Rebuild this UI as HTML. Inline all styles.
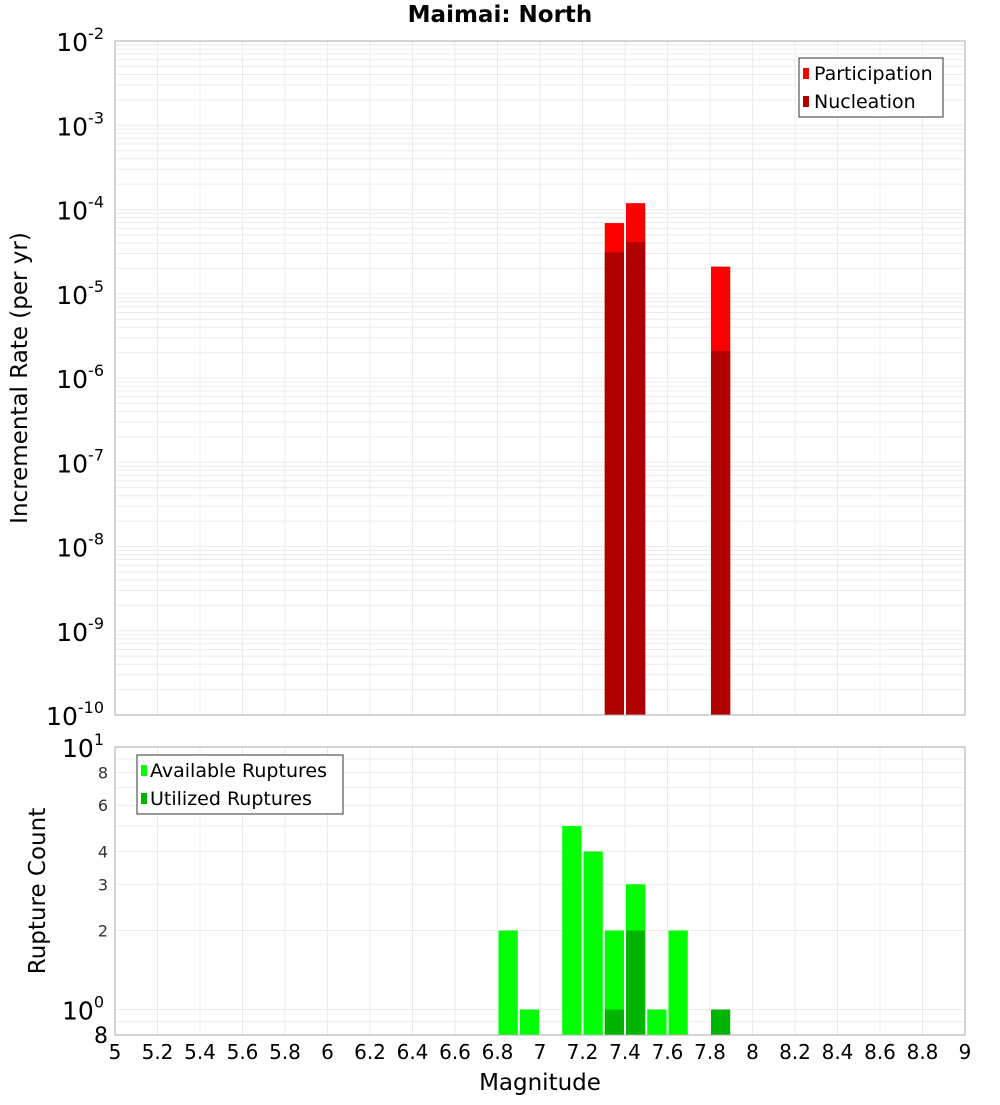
<!DOCTYPE html>
<html><head><meta charset="utf-8"><style>
body{margin:0;background:#fff;font-family:"Liberation Sans","DejaVu Sans",sans-serif}
svg text{font-family:"DejaVu Sans","Liberation Sans",sans-serif}
</style></head><body>
<svg id="c" width="1000" height="1100" xmlns="http://www.w3.org/2000/svg"></svg>
<script>
const topMags=[7.35,7.45,7.85];
const participation=[6.9e-5,1.19e-4,2.1e-5];
const nucleation=[3.1e-5,4.1e-5,2.1e-6];
const availMags=[6.85,6.95,7.15,7.25,7.35,7.45,7.55,7.65];
const available=[2,1,5,4,2,3,1,2];
const utilMags=[7.35,7.45,7.85];
const utilized=[1,2,1];
const xTicks=[5,5.2,5.4,5.6,5.8,6,6.2,6.4,6.6,6.8,7,7.2,7.4,7.6,7.8,8,8.2,8.4,8.6,8.8,9];
const topDecades=[-10,-9,-8,-7,-6,-5,-4,-3,-2];
const botTicks=[2,3,4,6,8];

const svg=document.getElementById('c');const NS='http://www.w3.org/2000/svg';
function el(t,a,p){const e=document.createElementNS(NS,t);for(const k in a)e.setAttribute(k,a[k]);(p||svg).appendChild(e);return e;}
const L=115,R=965,T1=41,B1=715,T2=747,B2=1035;
const X=m=>L+(m-5)/4*(R-L);
const Y1=v=>T1+(-2-Math.log10(v))/8*(B1-T1);
const Y2=v=>B2-(Math.log10(v)-Math.log10(0.8))/(1-Math.log10(0.8))*(B2-T2);
const bw=(X(5.1)-X(5))-2;
const g=el('g',{});
xTicks.forEach(t=>{el('line',{x1:X(t),x2:X(t),y1:T1,y2:B1,stroke:'#ebebeb'},g);el('line',{x1:X(t),x2:X(t),y1:T2,y2:B2,stroke:'#ebebeb'},g);});
topDecades.forEach(d=>{for(let k=1;k<10;k++){const y=Y1(k*Math.pow(10,d));if(y>=T1&&y<=B1)el('line',{x1:L,x2:R,y1:y,y2:y,stroke:'#ebebeb'},g);}});
[0.9,1,2,3,4,5,6,7,8,9].forEach(v=>el('line',{x1:L,x2:R,y1:Y2(v),y2:Y2(v),stroke:'#ebebeb'},g));
topMags.forEach((m,i)=>{
 const b=el('rect',{x:X(m)-bw/2,y:Y1(participation[i]),width:bw,height:B1-Y1(participation[i]),fill:'#ff0000'});
 
 const n=el('rect',{x:X(m)-bw/2,y:Y1(nucleation[i]),width:bw,height:B1-Y1(nucleation[i]),fill:'#b00000'});
 
});
availMags.forEach((m,i)=>{
 const b=el('rect',{x:X(m)-bw/2,y:Y2(available[i]),width:bw,height:B2-Y2(available[i]),fill:'#00ff00'});
 
});
utilMags.forEach((m,i)=>{
 const b=el('rect',{x:X(m)-bw/2,y:Y2(utilized[i]),width:bw,height:B2-Y2(utilized[i]),fill:'#00b400'});
 
});
el('rect',{x:L,y:T1,width:R-L,height:B1-T1,fill:'none',stroke:'#aaa'});
el('rect',{x:L,y:T2,width:R-L,height:B2-T2,fill:'none',stroke:'#aaa'});
xTicks.forEach(t=>{const tx=el('text',{x:X(t),y:1059,'font-size':20,'text-anchor':'middle'});tx.textContent=String(t);
 });
topDecades.forEach(d=>{const tx=el('text',{x:104,y:Y1(Math.pow(10,d))+10,'font-size':25,'text-anchor':'end'});
 tx.innerHTML='10<tspan dy="-12" font-size="16">'+d+'</tspan>';
 });
[[10,'10','1'],[1,'10','0']].forEach(([v,b,e])=>{const tx=el('text',{x:104,y:Y2(v)+10,'font-size':25,'text-anchor':'end'});
 tx.innerHTML=b+'<tspan dy="-12" font-size="16">'+e+'</tspan>';});
botTicks.forEach(v=>{const tx=el('text',{x:108,y:Y2(v)+6,'font-size':16,'text-anchor':'end',fill:'#333'});tx.textContent=v;
 });
{const tx=el('text',{x:108,y:1043,'font-size':22,'text-anchor':'end'});tx.textContent='8';}
</script>
<svg style="position:absolute;left:0;top:0" width="1000" height="1100" xmlns="http://www.w3.org/2000/svg">
<text x="500" y="22" font-size="23" font-weight="bold" text-anchor="middle">Maimai: North</text>
<text transform="translate(27,378) rotate(-90)" font-size="23" text-anchor="middle">Incremental Rate (per yr)</text>
<text transform="translate(45,891) rotate(-90)" font-size="23" text-anchor="middle">Rupture Count</text>
<text x="540" y="1090" font-size="23" text-anchor="middle">Magnitude</text>
<g>
<rect x="799" y="58" width="144" height="59" fill="#fff" stroke="#333"/>
<rect x="803" y="68" width="6" height="11" fill="#ff0000"/>
<text x="814" y="80" font-size="19">Participation</text>
<rect x="803" y="96" width="6" height="11" fill="#b00000"/>
<text x="814" y="108" font-size="19">Nucleation</text>
</g>
<g>
<rect x="137" y="755" width="206" height="59" fill="#fff" stroke="#333"/>
<rect x="141" y="765" width="6" height="11" fill="#00ff00"/>
<text x="150" y="777" font-size="19">Available Ruptures</text>
<rect x="141" y="793" width="6" height="11" fill="#00b400"/>
<text x="150" y="805" font-size="19">Utilized Ruptures</text>
</g>
</svg>
</body></html>
